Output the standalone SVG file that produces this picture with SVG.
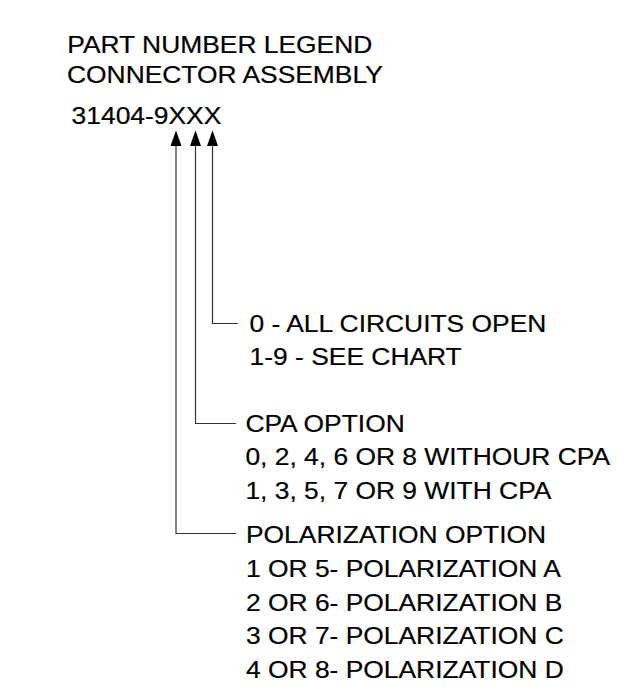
<svg xmlns="http://www.w3.org/2000/svg" width="637" height="699" viewBox="0 0 637 699">
<style>
text{font-family:"Liberation Sans",Arial,sans-serif;font-size:24px;fill:#000;stroke:#000;stroke-width:0.2}
.sx{transform:scale(1.1,1)}
.ln{fill:none;stroke:#333;stroke-width:1.2}
.ah{fill:#000}
</style>
<rect width="637" height="699" fill="#fff"/>
<g id="title" class="sx">
<text x="61.18" y="52.8">PART NUMBER LEGEND</text>
<text x="60.91" y="83.3">CONNECTOR ASSEMBLY</text>
<text x="65.09" y="124">31404-9XXX</text>
</g>
<g id="connectors">
<polyline class="ln" points="212.5,145 212.5,323.5 238,323.5"/>
<polyline class="ln" points="195.5,145 195.5,423.5 236,423.5"/>
<polyline class="ln" points="176,145 176,533.5 236,533.5"/>
<polygon class="ah" points="212.5,130.5 218,146 207,146"/>
<polygon class="ah" points="195.5,130.5 201,146 190,146"/>
<polygon class="ah" points="176,130.5 181.5,146 170.5,146"/>
</g>
<g id="circuits" class="sx">
<text x="226.91" y="332.3">0 - ALL CIRCUITS OPEN</text>
<text x="226.91" y="365.5">1-9 - SEE CHART</text>
</g>
<g id="cpa" class="sx">
<text x="223.09" y="432.3">CPA OPTION</text>
<text x="223.09" y="465.5">0, 2, 4, 6 OR 8 WITHOUR CPA</text>
<text x="223.09" y="499">1, 3, 5, 7 OR 9 WITH CPA</text>
</g>
<g id="polarization" class="sx">
<text x="223.64" y="543.3">POLARIZATION OPTION</text>
<text x="223.64" y="576.8">1 OR 5- POLARIZATION A</text>
<text x="223.64" y="610.7">2 OR 6- POLARIZATION B</text>
<text x="223.64" y="644.4">3 OR 7- POLARIZATION C</text>
<text x="223.64" y="678.3">4 OR 8- POLARIZATION D</text>
</g>
</svg>
